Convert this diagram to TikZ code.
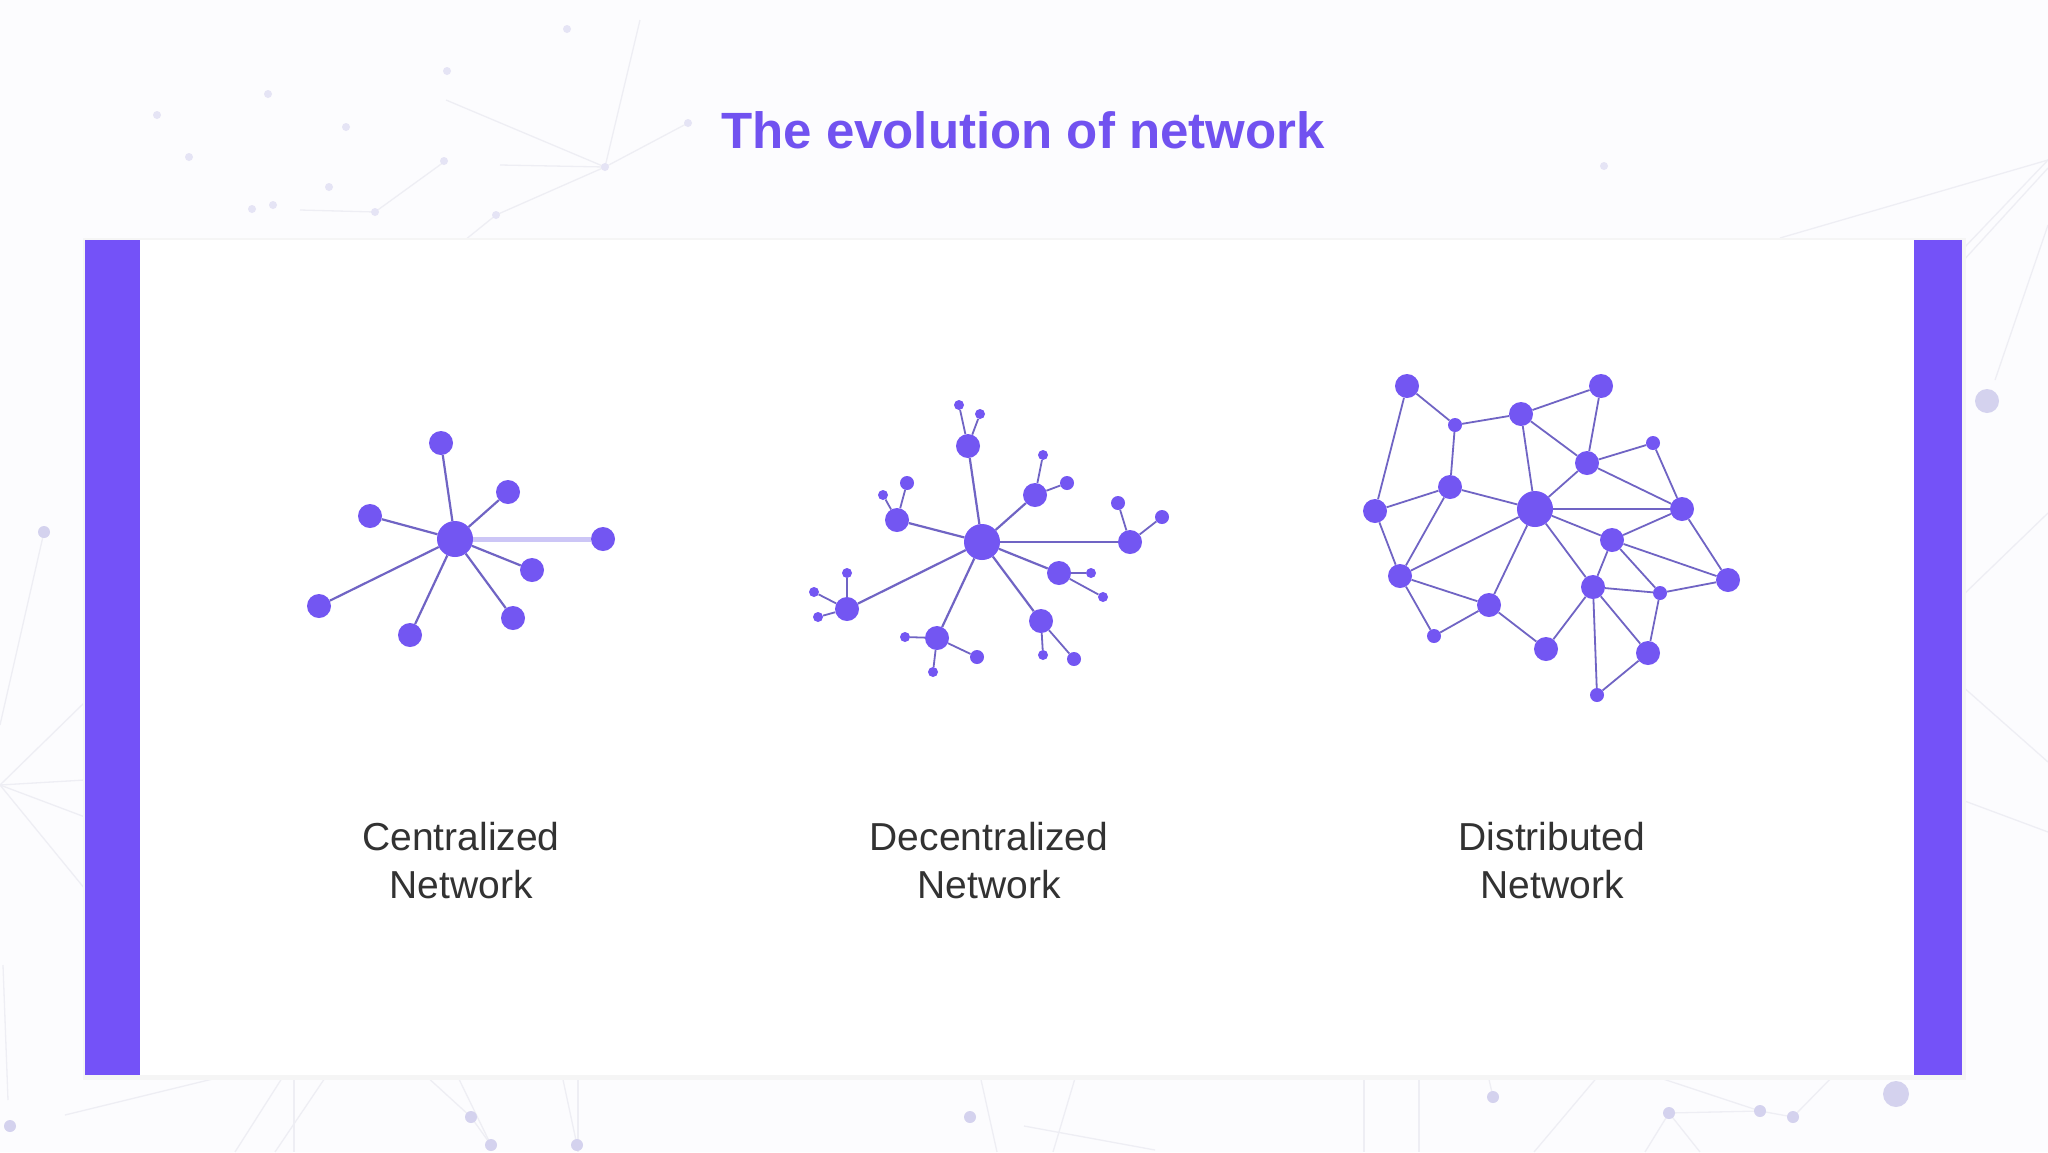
\documentclass[tikz,border=0pt]{standalone}
\usepackage{fontspec}
\setmainfont{Liberation Sans}
\usetikzlibrary{backgrounds}
\pgfdeclarelayer{deco}
\pgfdeclarelayer{edges}
\pgfsetlayers{deco,edges,main}
\definecolor{barcol}{RGB}{116,82,248}
\definecolor{nodecol}{RGB}{115,86,242}
\definecolor{edgecol}{RGB}{112,100,196}
\definecolor{lightedge}{RGB}{204,198,246}
\definecolor{titlecol}{RGB}{113,82,240}
\definecolor{labelcol}{RGB}{50,50,50}
\definecolor{bgcol}{RGB}{252,252,254}
\definecolor{decoline}{RGB}{238,238,244}
\definecolor{decodot}{RGB}{212,210,238}
\tikzset{
  dot/.style={circle, fill=nodecol, inner sep=0pt, minimum size=#1},
  dot/.default=24pt,
  hubdot/.style={dot=36pt},
  smalldot/.style={dot=10pt},
  middot/.style={dot=14pt},
  link/.style={draw=edgecol, line width=2.2pt},
  thinlink/.style={draw=edgecol, line width=1.8pt},
  paleline/.style={draw=decoline, line width=1.3pt},
  bgdot/.style={circle, fill=decodot, inner sep=0pt, minimum size=#1},
  bgdot/.default=9pt,
  caption/.style={font=\fontsize{39}{48}\selectfont, text=labelcol, align=center, inner sep=0pt}
}
\begin{document}
\begin{tikzpicture}[x=1pt, y=-1pt]
\useasboundingbox (0,0) rectangle (2048,1152);
\begin{pgfonlayer}{deco}
\fill[bgcol] (0,0) rectangle (2048,1152);
% faint background network
\coordinate (h1) at (605,167);
\draw[paleline] (h1) -- (496,215) -- (465,240);
\draw[paleline] (h1) -- (446,100);
\draw[paleline] (h1) -- (500,165);
\draw[paleline] (h1) -- (688,123);
\draw[paleline] (h1) -- (640,20);
\draw[paleline] (300,210) -- (375,212) -- (444,162);
\draw[paleline] (2048,160) -- (1962,250);
\draw[paleline] (2048,168) -- (1962,262);
\draw[paleline] (2048,160) -- (1780,238);
\draw[paleline] (2048,225) -- (1995,380);
\draw[paleline] (1962,596) -- (2048,513);
\draw[paleline] (1962,686) -- (2048,762);
\draw[paleline] (1962,800) -- (2048,832);
\draw[paleline] (0,785) -- (85,702);
\draw[paleline] (0,785) -- (85,780);
\draw[paleline] (0,785) -- (85,817);
\draw[paleline] (0,785) -- (85,889);
\draw[paleline] (44,532) -- (0,725);
\draw[paleline] (3,965) -- (8,1100);
\draw[paleline] (284,1075) -- (235,1152);
\draw[paleline] (294,1075) -- (294,1152);
\draw[paleline] (327,1075) -- (275,1152);
\draw[paleline] (425,1075) -- (471,1117) -- (491,1145);
\draw[paleline] (457,1075) -- (491,1145);
\draw[paleline] (562,1075) -- (577,1145);
\draw[paleline] (578,1075) -- (578,1152);
\draw[paleline] (229,1075) -- (65,1115);
\draw[paleline] (980,1075) -- (997,1152);
\draw[paleline] (1076,1075) -- (1053,1152);
\draw[paleline] (1024,1126) -- (1155,1150);
\draw[paleline] (1364,1075) -- (1364,1152);
\draw[paleline] (1419,1075) -- (1419,1152);
\draw[paleline] (1488,1075) -- (1493,1097);
\draw[paleline] (1599,1075) -- (1534,1152);
\draw[paleline] (1651,1075) -- (1760,1111);
\draw[paleline] (1669,1113) -- (1760,1111) -- (1793,1117);
\draw[paleline] (1669,1113) -- (1645,1152);
\draw[paleline] (1669,1113) -- (1700,1152);
\draw[paleline] (1834,1075) -- (1793,1117);
\foreach \p in {(157,115),(268,94),(189,157),(346,127),(447,71),(444,161),(567,29),(605,167),(688,123),(329,187),(252,209),(273,205),(375,212),(496,215),(1604,166)}
  \node[bgdot=8pt, fill=decodot!60] at \p {};
\foreach \p in {(44,532),(10,1126),(471,1117),(491,1145),(577,1145),(970,1117),(1493,1097),(1669,1113),(1760,1111),(1793,1117)}
  \node[bgdot=12pt] at \p {};
\node[bgdot=24pt] at (1987,401) {};
\node[bgdot=26pt] at (1896,1094) {};
% panel
\fill[black!4] (83,238) rectangle (1966,1080);
\fill[white] (85,240) rectangle (1962,1075);
\end{pgfonlayer}
% side bars
\fill[barcol] (85,240) rectangle (140,1075);
\fill[barcol] (1914,240) rectangle (1962,1075);

% title
\node[font=\bfseries\fontsize{51}{60}\selectfont, text=titlecol, anchor=base, inner sep=0pt] (title) at (1023,148) {The evolution of network};

% ---------- Centralized ----------
\node[hubdot] (c0) at (455,539) {};
\node[dot] (c1) at (441,443) {};
\node[dot] (c2) at (508,492) {};
\node[dot] (c3) at (370,516) {};
\node[dot] (c4) at (603,539) {};
\node[dot] (c5) at (532,570) {};
\node[dot] (c6) at (513,618) {};
\node[dot] (c7) at (410,635) {};
\node[dot] (c8) at (319,606) {};
\begin{pgfonlayer}{edges}
\foreach \n in {c1,c2,c3,c5,c6,c7,c8} \draw[link] (c0) -- (\n);
\draw[draw=lightedge, line width=5pt] (c0) -- (c4);
\end{pgfonlayer}

% ---------- Decentralized ----------
\node[hubdot] (dc) at (982,542) {};
\node[dot] (d1) at (968,446) {};
\node[smalldot] (d1a) at (959,405) {};
\node[smalldot] (d1b) at (980,414) {};
\node[dot] (d2) at (1035,495) {};
\node[smalldot] (d2a) at (1043,455) {};
\node[middot] (d2b) at (1067,483) {};
\node[dot] (d3) at (897,520) {};
\node[middot] (d3a) at (907,483) {};
\node[smalldot] (d3b) at (883,495) {};
\node[dot] (d4) at (1130,542) {};
\node[middot] (d4a) at (1118,503) {};
\node[middot] (d4b) at (1162,517) {};
\node[dot] (d5) at (1059,573) {};
\node[smalldot] (d5a) at (1091,573) {};
\node[smalldot] (d5b) at (1103,597) {};
\node[dot] (d6) at (1041,621) {};
\node[smalldot] (d6a) at (1043,655) {};
\node[middot] (d6b) at (1074,659) {};
\node[dot] (d7) at (937,638) {};
\node[smalldot] (d7a) at (905,637) {};
\node[middot] (d7b) at (977,657) {};
\node[smalldot] (d7c) at (933,672) {};
\node[dot] (d8) at (847,609) {};
\node[smalldot] (d8a) at (847,573) {};
\node[smalldot] (d8b) at (814,592) {};
\node[smalldot] (d8c) at (818,617) {};
\begin{pgfonlayer}{edges}
\foreach \n in {d1,d2,d3,d4,d5,d6,d7,d8} \draw[link] (dc) -- (\n);
\foreach \a/\b in {d1/d1a,d1/d1b,d2/d2a,d2/d2b,d3/d3a,d3/d3b,d4/d4a,d4/d4b,d5/d5a,d5/d5b,d6/d6a,d6/d6b,d7/d7a,d7/d7b,d7/d7c,d8/d8a,d8/d8b,d8/d8c}
  \draw[thinlink] (\a) -- (\b);
\end{pgfonlayer}

% ---------- Distributed ----------
\node[dot] (A) at (1407,386) {};
\node[middot] (B) at (1455,425) {};
\node[dot] (C) at (1521,414) {};
\node[dot] (D) at (1601,386) {};
\node[dot] (E) at (1587,463) {};
\node[middot] (F) at (1653,443) {};
\node[dot] (G) at (1450,487) {};
\node[dot] (H) at (1375,511) {};
\node[hubdot] (I) at (1535,509) {};
\node[dot] (J) at (1682,509) {};
\node[dot] (K) at (1612,540) {};
\node[dot] (L) at (1400,576) {};
\node[dot] (M) at (1728,580) {};
\node[middot] (N) at (1660,593) {};
\node[dot] (O) at (1593,587) {};
\node[dot] (P) at (1489,605) {};
\node[middot] (Q) at (1434,636) {};
\node[dot] (R) at (1546,649) {};
\node[dot] (S) at (1648,653) {};
\node[middot] (T) at (1597,695) {};
\begin{pgfonlayer}{edges}
\foreach \a/\b in {A/B,A/H,B/C,B/G,C/D,C/E,C/I,D/E,E/F,E/J,E/I,F/J,G/H,G/I,G/L,H/L,I/J,I/K,I/L,I/P,I/O,J/K,J/M,K/O,K/N,K/M,L/P,L/Q,Q/P,P/R,R/O,O/N,O/S,O/T,N/M,N/S,S/T}
  \draw[thinlink] (\a) -- (\b);
\end{pgfonlayer}

% captions
\node[caption, anchor=base] (lab1) at (461,898) {Centralized\\Network};
\node[caption, anchor=base] (lab2) at (989,898) {Decentralized\\Network};
\node[caption, anchor=base] (lab3) at (1552,898) {Distributed\\Network};
\end{tikzpicture}
\end{document}
